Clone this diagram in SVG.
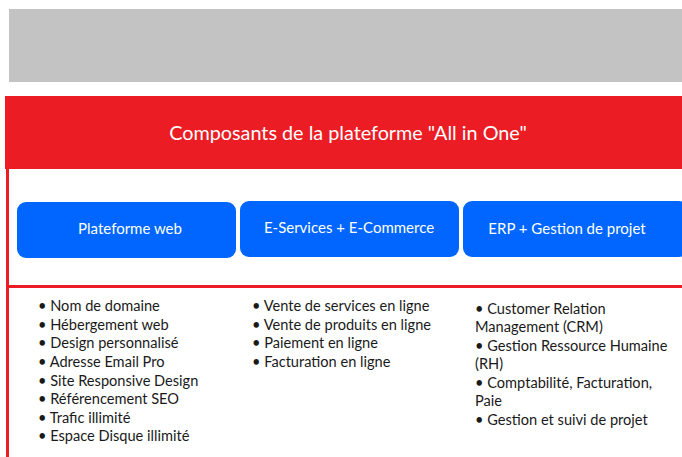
<svg xmlns="http://www.w3.org/2000/svg" width="682" height="457" viewBox="0 0 682 457">
<style>
.box{fill:#0066ff}
.bt{fill:#fff;font-family:Lato,"Open Sans",sans-serif;font-size:15px;text-anchor:middle}
.li{fill:#1a1a1a;font-family:Lato,"Liberation Sans",sans-serif;font-size:14.6px}
.red{fill:#ec1c24}
</style>
<rect width="682" height="457" fill="#fff"/>
<rect id="header" x="9" y="9" width="673" height="73" fill="#c3c3c3"/>
<g id="frame">
<rect class="red" x="5" y="96" width="677" height="73"/>
<text x="348" y="140" fill="#fff" font-family="Lato,'Open Sans',sans-serif" font-size="19.8" text-anchor="middle">Composants de la plateforme "All in One"</text>
<rect class="red" x="6" y="169" width="3" height="288"/>
<rect class="red" x="6" y="285" width="676" height="3"/>
</g>
<g id="n1"><rect class="box" x="17" y="202" width="219" height="56" rx="9"/><text class="bt" x="130" y="234">Plateforme web</text></g>
<g id="n2"><rect class="box" x="240" y="201" width="219" height="56" rx="9"/><text class="bt" x="349" y="233">E-Services + E-Commerce</text></g>
<g id="n3"><rect class="box" x="463" y="201" width="225" height="56" rx="9"/><text class="bt" x="567" y="234">ERP + Gestion de projet</text></g>
<g id="list1" class="li">
<text x="38" y="311">• Nom de domaine</text>
<text x="38" y="330">• Hébergement web</text>
<text x="38" y="348">• Design personnalisé</text>
<text x="38" y="367">• Adresse Email Pro</text>
<text x="38" y="386">• Site Responsive Design</text>
<text x="38" y="404">• Référencement SEO</text>
<text x="38" y="423">• Trafic illimité</text>
<text x="38" y="441">• Espace Disque illimité</text>
</g>
<g id="list2" class="li">
<text x="252" y="311">• Vente de services en ligne</text>
<text x="252" y="330">• Vente de produits en ligne</text>
<text x="252" y="348">• Paiement en ligne</text>
<text x="252" y="367">• Facturation en ligne</text>
</g>
<g id="list3" class="li">
<text x="475" y="314">• Customer Relation</text>
<text x="475" y="332">Management (CRM)</text>
<text x="475" y="351">• Gestion Ressource Humaine</text>
<text x="475" y="369">(RH)</text>
<text x="475" y="388">• Comptabilité, Facturation,</text>
<text x="475" y="406">Paie</text>
<text x="475" y="425">• Gestion et suivi de projet</text>
</g>
</svg>
